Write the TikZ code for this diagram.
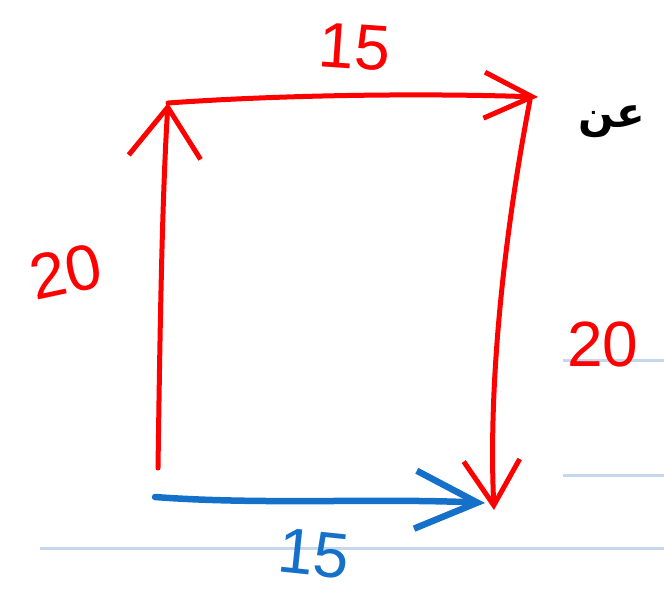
\documentclass[tikz,border=0pt]{standalone}
\usepackage{fontspec}
\setmainfont{Liberation Sans}
\newfontfamily\arabicfont[Script=Arabic]{DejaVu Sans}
\TeXXeTstate=1
\usetikzlibrary{arrows.meta}
\definecolor{penred}{RGB}{255,0,0}
\definecolor{penblue}{RGB}{20,112,200}
\definecolor{ruleblue}{RGB}{197,215,238}
\tikzset{
  redpen/.style={draw=penred, line width=5pt, line cap=round, line join=round},
  bluepen/.style={draw=penblue, line width=6.5pt, line cap=round, line join=round},
  rule/.style={draw=ruleblue, line width=3pt},
  digits/.style={font=\fontsize{64}{64}\selectfont, inner sep=1pt}
}
\begin{document}
\begin{tikzpicture}[x=1pt,y=-1pt]
\useasboundingbox (0,0) rectangle (664,593);
% ruled lines of the page
\draw[rule] (40,548) -- (664,548);
\draw[rule] (563,475) -- (664,475);
\draw[rule] (563,361) -- (664,361);
% corners of the path
\coordinate (bl) at (158,468);
\coordinate (tl) at (168,103);
\coordinate (tr) at (538,97);
\coordinate (rt) at (530,100);
\coordinate (br) at (494,510);
\coordinate (bs) at (155,497);
\coordinate (be) at (485,503);
% red sides
\draw[redpen, -{Straight Barb[length=50pt,width=72pt]}] (bl) .. controls (160,330) and (162,200) .. (tl);
\draw[redpen, -{Straight Barb[length=48pt,width=46pt]}] (tl) .. controls (280,95) and (420,93) .. (tr);
\draw[redpen, -{Straight Barb[length=45pt,width=56pt]}] (rt) .. controls (505,230) and (488,380) .. (br);
% blue base
\draw[bluepen, -{Straight Barb[length=62pt,width=58pt]}] (bs) .. controls (260,505) and (380,498) .. (be);
% lengths
\node[digits, text=penred, rotate=12] (left) at (66,272) {20};
\node[digits, text=penred, rotate=-4] (top) at (355,47) {15};
\node[digits, text=penred] (right) at (603,344) {20};
\node[digits, text=penblue, rotate=-6] (base) at (314,554) {15};
% text of the page
\node[font=\fontsize{42}{42}\selectfont\arabicfont\bfseries, inner sep=0pt] (word) at (612,122) {\beginR عن\endR};
\end{tikzpicture}
\end{document}
